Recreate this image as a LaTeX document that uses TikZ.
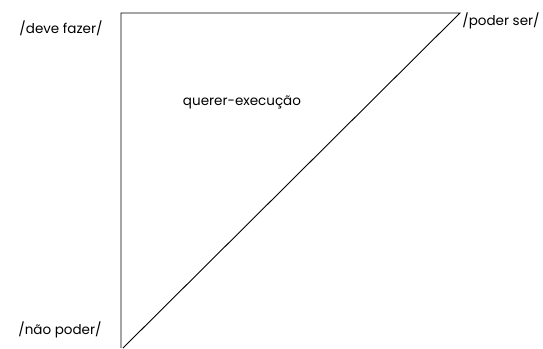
\documentclass[tikz,border=0pt]{standalone}
\usepackage{fontspec}
\setmainfont{Poppins}
\begin{document}
\begin{tikzpicture}[x=1pt,y=-1pt,
  lbl/.style={inner sep=0pt, font=\fontsize{13.5}{15}\selectfont},
  edge/.style={draw=black, line width=0.9pt}]
\useasboundingbox (0,0) rectangle (543,348);
\coordinate (tl) at (121,13);
\coordinate (tr) at (460,13);
\coordinate (bl) at (121,348);
\coordinate (blr) at (123,348);
\draw[edge] (bl) -- (tl) -- (tr) -- (blr);
\node[lbl] (deve) at (61,28) {/deve fazer/};
\node[lbl] (poder) at (501,21) {/poder ser/};
\node[lbl] (nao) at (60,330) {/não poder/};
\node[lbl] (querer) at (242,102) {querer-execução};
\end{tikzpicture}
\end{document}
